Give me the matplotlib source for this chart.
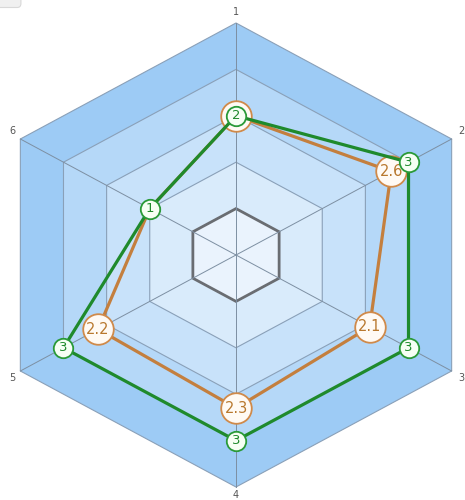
import matplotlib
matplotlib.use('Agg')
import numpy as np
import matplotlib.pyplot as plt
from matplotlib.patches import Polygon, FancyBboxPatch

# 数据
axis_labels = ['1', '2', '3', '4', '5', '6']
orange_values = [2, 2.6, 2.1, 2.3, 2.2, 1]
green_values = [2, 3, 3, 3, 3, 1]
orange_text = ['2', '2.6', '2.1', '2.3', '2.2', '']   # 第6个点被绿色点挡住
green_text = ['2', '3', '3', '3', '3', '1']
ring_levels = [4, 3, 2, 1, 0]
ring_colors = ['#9dcbf5', '#b5d8f8', '#c8e2fa', '#d9ebfb', '#eaf3fd']
r_min = -1  # 中心对应的数值

n = len(axis_labels)
theta = np.deg2rad(90 - 60 * np.arange(n))


def to_xy(values):
    r = np.asarray(values, dtype=float) - r_min
    return r * np.cos(theta), r * np.sin(theta)


fig = plt.figure(figsize=(4.65, 5.0), dpi=100)
ax = fig.add_axes([0, 0, 1, 1])
ax.set_xlim(-236 / 49.8, (465 - 236) / 49.8)
ax.set_ylim(-(500 - 255) / 46.4, 255 / 46.4)
ax.axis('off')

# 背景的环
for lvl, col in zip(ring_levels, ring_colors):
    x, y = to_xy([lvl] * n)
    ax.add_patch(Polygon(np.column_stack([x, y]), closed=True, facecolor=col,
                         edgecolor='#8aa0b8', lw=0.8, zorder=1))

# 0 的环 (深灰)
x0, y0 = to_xy([0] * n)
ax.add_patch(Polygon(np.column_stack([x0, y0]), closed=True, facecolor='none',
                     edgecolor='#6a6d72', lw=2.0, zorder=2))

# 轴线
xo, yo = to_xy([ring_levels[0]] * n)
for i in range(n):
    ax.plot([0, xo[i]], [0, yo[i]], color='#7d8fa2', lw=0.7, zorder=2)

# 轴标签
offsets = [(0, 8), (7, 6), (7, -5), (0, -5.5), (-6, -5), (-6, 6)]
for i, lab in enumerate(axis_labels):
    ax.annotate(lab, (xo[i], yo[i]), xytext=offsets[i], textcoords='offset points',
                ha='center', va='center', fontsize=7, color='#555555')

# 橙色系列
ox, oy = to_xy(orange_values)
ax.plot(np.append(ox, ox[0]), np.append(oy, oy[0]), color='#c47f3e', lw=2.3, zorder=3)
shown = [i for i in range(n) if orange_text[i]]
ax.scatter(ox[shown], oy[shown], s=22 ** 2, facecolor='#fffaf4', edgecolor='#d08a4a',
           lw=1.3, zorder=4)
for i in shown:
    ax.text(ox[i], oy[i], orange_text[i], ha='center', va='center', fontsize=10.5,
            color='#b8782e', zorder=5)

# 绿色系列
gx, gy = to_xy(green_values)
ax.plot(np.append(gx, gx[0]), np.append(gy, gy[0]), color='#1f8a2c', lw=2.3, zorder=6)
ax.scatter(gx, gy, s=14 ** 2, facecolor='#f6fff4', edgecolor='#2a9a38', lw=1.3, zorder=7)
for i in range(n):
    ax.text(gx[i], gy[i], green_text[i], ha='center', va='center', fontsize=9.5,
            color='#1f8a2c', zorder=8)

# 左上角的小按钮残影
fig.patches.append(FancyBboxPatch((-0.02, 0.985), 0.065, 0.03, boxstyle='round,pad=0,rounding_size=0.008',
                                  transform=fig.transFigure, facecolor='#f0f0f0',
                                  edgecolor='#d8d8d8', lw=0.8))

fig.savefig('out.png', dpi=100)
